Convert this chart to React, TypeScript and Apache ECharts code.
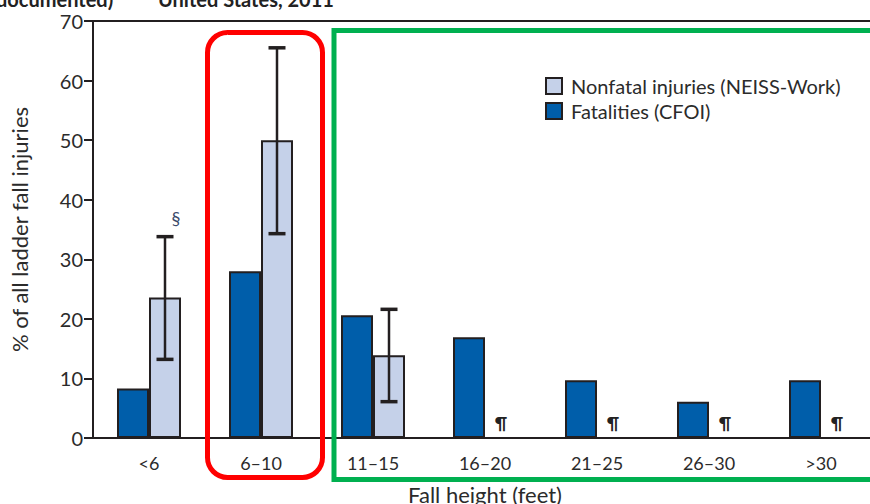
import React, { useEffect, useRef } from "react";
import * as echarts from "echarts";

const categories = ["<6", "6–10", "11–15", "16–20", "21–25", "26–30", ">30"];
const fatalities = [8.3, 28.0, 20.6, 16.9, 9.7, 6.1, 9.7];
const nonfatal: (number | string)[] = [23.6, 50.0, 13.9, "-", "-", "-", "-"];
// error bars for nonfatal: [categoryIndex, low, high]
const nonfatalCI = [
  [0, 13.2, 33.8],
  [1, 34.3, 65.5],
  [2, 6.1, 21.6],
];
// footnote marks: [categoryIndex, yValue]
const markPos = [
  [0, 37.0],
  [3, 2.6],
  [4, 2.6],
  [5, 2.6],
  [6, 2.6],
];
const markChars = ["§", "¶", "¶", "¶", "¶"];
const yTicks = { min: 0, max: 70, interval: 10 };

const FONT = "Lato, 'Open Sans', sans-serif";
const TXT = "#2b2b2b";
const INK = "#231f20";

export default function App() {
  const ref = useRef<HTMLDivElement>(null);
  useEffect(() => {
    if (!ref.current) return;
    const chart = echarts.init(ref.current, undefined, { renderer: "svg" });
    const option: any = {
      animation: false,
      textStyle: { fontFamily: FONT },
      grid: { left: 93, top: 21, right: -7, bottom: 66, containLabel: false, outerBoundsMode: "none" },
      legend: {
        orient: "vertical",
        left: 540,
        top: 71,
        itemWidth: 16,
        itemHeight: 16,
        itemGap: 5,
        icon: "rect",
        data: ["Nonfatal injuries (NEISS-Work)", "Fatalities (CFOI)"],
        textStyle: { fontSize: 20, color: TXT, fontFamily: FONT, padding: [0, 0, 0, 4] },
      },
      xAxis: [
        {
          type: "category",
          data: categories,
          axisLine: { lineStyle: { color: INK, width: 2 } },
          axisTick: { alignWithLabel: true, length: 9, lineStyle: { color: INK, width: 2 } },
          axisLabel: { fontSize: 18, color: TXT, margin: 16, fontFamily: FONT },
          name: "Fall height (feet)",
          nameLocation: "middle",
          nameGap: 45,
          nameTextStyle: { fontSize: 22, color: TXT, fontFamily: FONT },
        },
        {
          type: "category",
          data: categories,
          position: "top",
          axisLine: { show: true, lineStyle: { color: INK, width: 2 } },
          axisTick: { show: false },
          axisLabel: { show: false },
        },
      ],
      yAxis: {
        type: "value",
        min: yTicks.min,
        max: yTicks.max,
        interval: yTicks.interval,
        splitLine: { show: false },
        axisLine: { show: true, lineStyle: { color: INK, width: 2 } },
        axisTick: { show: true, length: 9, lineStyle: { color: INK, width: 2 } },
        axisLabel: { fontSize: 20, color: TXT, margin: 10, fontFamily: FONT },
        name: "% of all ladder fall injuries",
        nameLocation: "middle",
        nameGap: 63,
        nameTextStyle: { fontSize: 22, color: TXT, fontFamily: FONT },
      },
      series: [
        {
          name: "Fatalities (CFOI)",
          type: "bar",
          data: fatalities,
          barWidth: 32,
          barGap: "0%",
          itemStyle: { color: "#005eaa", borderColor: INK, borderWidth: 2 },
        },
        {
          name: "Nonfatal injuries (NEISS-Work)",
          type: "bar",
          data: nonfatal,
          barWidth: 32,
          barGap: "0%",
          itemStyle: { color: "#c5d1e9", borderColor: INK, borderWidth: 2 },
        },
        {
          type: "custom",
          name: "ci",
          data: nonfatalCI,
          encode: { x: 0, y: [1, 2] },
          z: 5,
          renderItem: (params: any, api: any) => {
            const idx = api.value(0);
            const lo = api.coord([idx, api.value(1)]);
            const hi = api.coord([idx, api.value(2)]);
            const x = lo[0] + 16;
            const hw = 8.5;
            const st = { stroke: INK, lineWidth: 2.5 };
            return {
              type: "group",
              children: [
                { type: "line", shape: { x1: x, y1: lo[1], x2: x, y2: hi[1] }, style: st },
                { type: "line", shape: { x1: x - hw, y1: lo[1], x2: x + hw, y2: lo[1] }, style: { stroke: INK, lineWidth: 3.5 } },
                { type: "line", shape: { x1: x - hw, y1: hi[1], x2: x + hw, y2: hi[1] }, style: { stroke: INK, lineWidth: 3.5 } },
              ],
            };
          },
        },
        {
          type: "custom",
          name: "marks",
          data: markPos,
          encode: { x: 0, y: 1 },
          z: 6,
          renderItem: (params: any, api: any) => {
            const p = api.coord([api.value(0), api.value(1)]);
            const ch = markChars[params.dataIndex];
            const dx = ch === "§" ? 27 : 16;
            return {
              type: "text",
              x: p[0] + dx,
              y: p[1],
              style: {
                text: ch,
                fontSize: ch === "§" ? 18 : 17,
                fontWeight: ch === "§" ? "normal" : "bold",
                fill: ch === "§" ? "#3a4a6a" : "#222",
                align: "center",
                verticalAlign: "middle",
                fontFamily: FONT,
              },
            };
          },
        },
      ],
      graphic: [
        {
          type: "text",
          left: -9,
          top: -11,
          z: 10,
          style: {
            text: "(documented)",
            fontSize: 20,
            fontWeight: "bold",
            fill: "#222",
            fontFamily: FONT,
          },
        },
        {
          type: "text",
          left: 158,
          top: -11,
          z: 10,
          style: {
            text: "United States, 2011",
            fontSize: 20,
            fontWeight: "bold",
            fill: "#222",
            fontFamily: FONT,
          },
        },
        {
          type: "rect",
          z: 20,
          shape: { x: 207.5, y: 32.5, width: 115, height: 445, r: 20 },
          style: { fill: "none", stroke: "#ff0000", lineWidth: 5 },
        },
        {
          type: "rect",
          z: 20,
          shape: { x: 334, y: 30.5, width: 560, height: 449 },
          style: { fill: "none", stroke: "#00b050", lineWidth: 5 },
        },
      ],
    };
    chart.setOption(option);
    return () => chart.dispose();
  }, []);
  return <div ref={ref} style={{ width: 870, height: 504, position: "absolute", left: 0, top: 0, background: "#fff" }} />;
}
